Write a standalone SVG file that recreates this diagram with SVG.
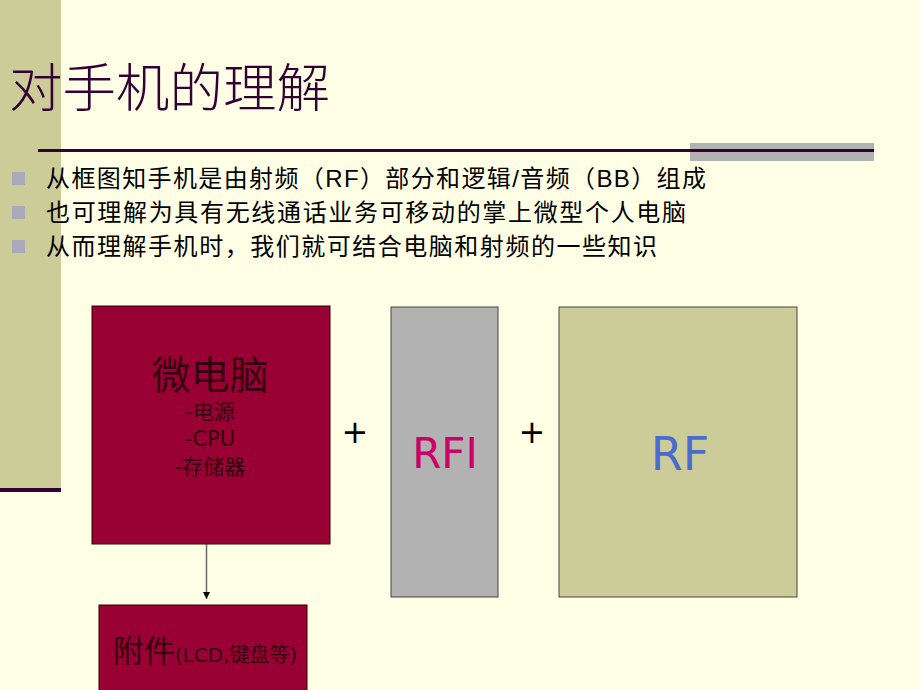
<svg xmlns="http://www.w3.org/2000/svg" width="920" height="690" viewBox="0 0 920 690">
  <defs>
    <style>
      .title { font-family: "Noto Sans CJK SC", sans-serif; font-size: 52px; fill: #330033; font-weight: 300; }
      .bullet-text { font-family: "Liberation Sans", "Noto Sans CJK SC", sans-serif; font-size: 24px; fill: #000000; }
      .bullet { fill: #AAAABB; }
      .dark { fill: #330011; }
      .plus { font-family: "DejaVu Sans", sans-serif; font-size: 32px; fill: #000000; text-anchor: middle; }
      .label { font-family: "DejaVu Sans", "Noto Sans CJK SC", sans-serif; text-anchor: middle; }
    </style>
    <marker id="arrow" viewBox="0 0 10 10" refX="10" refY="5" markerWidth="7" markerHeight="7" markerUnits="userSpaceOnUse" orient="auto">
      <path d="M0,0 L10,5 L0,10 Z" fill="#000000"/>
    </marker>
  </defs>

  <!-- background -->
  <rect x="0" y="0" width="920" height="690" fill="#FFFFE5"/>
  <rect x="0" y="0" width="61" height="488" fill="#CCCC99"/>
  <rect x="0" y="488" width="61" height="4" fill="#330033"/>

  <!-- header -->
  <text class="title" x="9" y="107" textLength="321" lengthAdjust="spacingAndGlyphs">对手机的理解</text>
  <rect x="690" y="143" width="184" height="18" fill="#B2B2B2"/>
  <rect x="38" y="149" width="836" height="3" fill="#330033"/>

  <!-- bullets -->
  <rect class="bullet" x="12" y="172" width="13" height="13"/>
  <rect class="bullet" x="12" y="206" width="13" height="13"/>
  <rect class="bullet" x="12" y="240" width="13" height="13"/>
  <text class="bullet-text" x="46" y="187" textLength="660" lengthAdjust="spacing">从框图知手机是由射频（RF）部分和逻辑/音频（BB）组成</text>
  <text class="bullet-text" x="46" y="221" textLength="640" lengthAdjust="spacing">也可理解为具有无线通话业务可移动的掌上微型个人电脑</text>
  <text class="bullet-text" x="46" y="255" textLength="611" lengthAdjust="spacing">从而理解手机时，我们就可结合电脑和射频的一些知识</text>

  <!-- connectors -->
  <g id="connectors">
    <line x1="206.5" y1="544" x2="206.5" y2="599" stroke="#666666" stroke-width="1.5" marker-end="url(#arrow)"/>
  </g>

  <!-- nodes -->
  <g id="micro">
    <rect x="92" y="306" width="238" height="238" fill="#990033" stroke="#330000" stroke-width="1"/>
    <text class="dark" x="210" y="389" text-anchor="middle" font-family="Noto Sans CJK SC, sans-serif" font-size="39">微电脑</text>
    <text class="dark" x="210" y="419" text-anchor="middle" font-family="DejaVu Sans, Noto Sans CJK SC, sans-serif" font-size="21">-电源</text>
    <text class="dark" x="210" y="446" text-anchor="middle" font-family="DejaVu Sans, Noto Sans CJK SC, sans-serif" font-size="21">-CPU</text>
    <text class="dark" x="210" y="474" text-anchor="middle" font-family="DejaVu Sans, Noto Sans CJK SC, sans-serif" font-size="21">-存储器</text>
  </g>

  <g id="accessory">
    <rect x="99" y="605" width="208" height="90" fill="#990033" stroke="#330000" stroke-width="1"/>
    <text class="dark" x="205" y="662" text-anchor="middle" font-family="DejaVu Sans, Noto Sans CJK SC, sans-serif"><tspan font-family="Noto Sans CJK SC, sans-serif" font-size="31">附件</tspan><tspan font-size="20">(LCD,键盘等)</tspan></text>
  </g>

  <g id="plus1">
    <text class="plus" x="355" y="443">+</text>
  </g>

  <g id="rfi">
    <rect x="391" y="307" width="107" height="290" fill="#B2B2B2" stroke="#444444" stroke-width="1"/>
    <text class="label" x="445" y="468" font-size="42" fill="#CC0066">RFI</text>
  </g>

  <g id="plus2">
    <text class="plus" x="532" y="443">+</text>
  </g>

  <g id="rf">
    <rect x="559" y="307" width="238" height="290" fill="#CCCC99" stroke="#444444" stroke-width="1"/>
    <text class="label" x="680" y="470" font-size="46" fill="#4A6BD0">RF</text>
  </g>
</svg>
